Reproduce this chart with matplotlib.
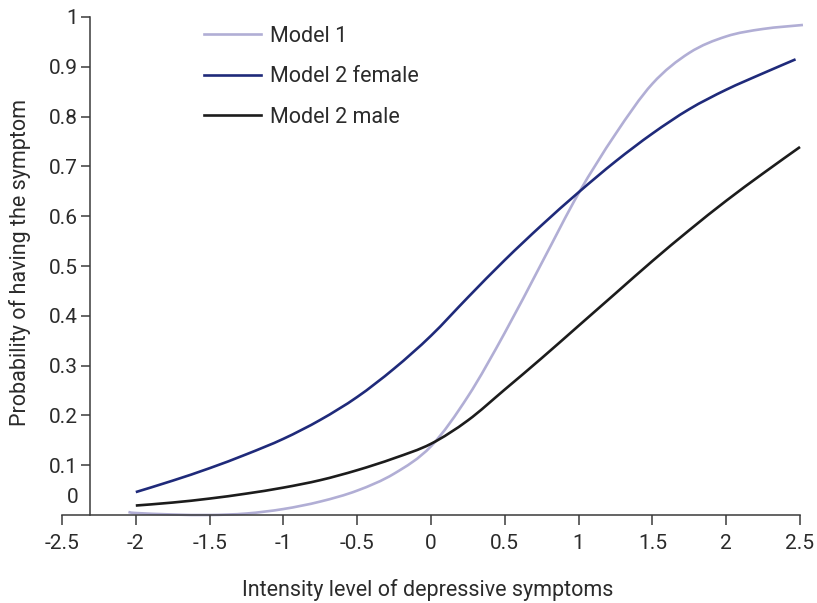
import matplotlib
matplotlib.use("Agg")
import matplotlib.pyplot as plt
import matplotlib.transforms as mtransforms
from matplotlib.path import Path
from matplotlib.patches import PathPatch
from matplotlib.lines import Line2D

plt.rcParams['font.family'] = ['Roboto', 'DejaVu Sans']

# Data
x_model1 = [-2.05, -2.0, -1.75, -1.5, -1.25, -1.0, -0.75, -0.5, -0.25, 0.0,
            0.25, 0.5, 0.75, 1.0, 1.25, 1.5, 1.75, 2.0, 2.25, 2.52]
y_model1 = [0.006, 0.004, 0.001, 0.0, 0.003, 0.012, 0.027, 0.049, 0.083, 0.138,
            0.238, 0.366, 0.506, 0.646, 0.765, 0.866, 0.928, 0.961, 0.976, 0.984]

x_female = [-2.0, -1.75, -1.5, -1.25, -1.0, -0.75, -0.5, -0.25, 0.0, 0.25,
            0.5, 0.75, 1.0, 1.25, 1.5, 1.75, 2.0, 2.25, 2.47]
y_female = [0.046, 0.069, 0.094, 0.122, 0.153, 0.191, 0.237, 0.294, 0.36, 0.437,
            0.512, 0.582, 0.648, 0.71, 0.766, 0.815, 0.854, 0.887, 0.915]

x_male = [-2.0, -1.75, -1.5, -1.25, -1.0, -0.75, -0.5, -0.25, 0.0, 0.25,
          0.5, 0.75, 1.0, 1.25, 1.5, 1.75, 2.0, 2.25, 2.5]
y_male = [0.019, 0.025, 0.033, 0.043, 0.055, 0.07, 0.09, 0.114, 0.143, 0.19,
          0.252, 0.315, 0.38, 0.445, 0.51, 0.572, 0.631, 0.686, 0.739]

series_labels = ['Model 1', 'Model 2 female', 'Model 2 male']

x_ticks = [-2.5, -2, -1.5, -1, -0.5, 0, 0.5, 1, 1.5, 2, 2.5]
x_tick_labels = ['-2.5', '-2', '-1.5', '-1', '-0.5', '0', '0.5', '1', '1.5', '2', '2.5']
y_ticks = [0.1, 0.2, 0.3, 0.4, 0.5, 0.6, 0.7, 0.8, 0.9, 1.0]
y_tick_labels = ['0.1', '0.2', '0.3', '0.4', '0.5', '0.6', '0.7', '0.8', '0.9', '1']

c_model1 = '#b1aed5'
c_female = '#1f2a7a'
c_male = '#1c1c1c'
axis_col = '#3a3a3a'
text_col = '#2b2b2b'


def smooth_path(xs, ys):
    """Catmull-Rom curve through the data points, as cubic Bezier path segments."""
    pts = list(zip(xs, ys))
    verts = [pts[0]]
    codes = [Path.MOVETO]
    n = len(pts)
    for i in range(n - 1):
        p0 = pts[i - 1] if i > 0 else pts[i]
        p1 = pts[i]
        p2 = pts[i + 1]
        p3 = pts[i + 2] if i + 2 < n else pts[i + 1]
        c1 = (p1[0] + (p2[0] - p0[0]) / 6, p1[1] + (p2[1] - p0[1]) / 6)
        c2 = (p2[0] - (p3[0] - p1[0]) / 6, p2[1] - (p3[1] - p1[1]) / 6)
        verts += [c1, c2, p2]
        codes += [Path.CURVE4] * 3
    return Path(verts, codes)


fig = plt.figure(figsize=(8.17, 6.03), dpi=100)
ax = fig.add_axes([62/817, 1 - 515/603, (800-62)/817, (515-17)/603])

lw = 1.9
handles = []
for xs, ys, col, lab in [(x_model1, y_model1, c_model1, series_labels[0]),
                         (x_female, y_female, c_female, series_labels[1]),
                         (x_male, y_male, c_male, series_labels[2])]:
    patch = PathPatch(smooth_path(xs, ys), facecolor='none', edgecolor=col,
                      lw=lw, capstyle='butt', clip_on=False)
    ax.add_patch(patch)
    handles.append(Line2D([], [], color=col, lw=lw, label=lab))

ax.set_xlim(-2.5, 2.5)
ax.set_ylim(0, 1)
ax.patch.set_visible(False)
for s in ['top', 'right']:
    ax.spines[s].set_visible(False)
ax.spines['left'].set_position(('data', -2.31))
for s in ['left', 'bottom']:
    ax.spines[s].set_color(axis_col)
    ax.spines[s].set_linewidth(1.1)

fs = 15.5
tfs = 15
ax.set_xticks(x_ticks)
ax.set_xticklabels(x_tick_labels, fontsize=tfs, color=text_col)
ax.set_yticks(y_ticks)
ax.set_yticklabels(y_tick_labels, fontsize=tfs, color=text_col)
ax.tick_params(axis='x', length=7.5, width=1.1, color=axis_col, pad=6)
ax.tick_params(axis='y', length=6.5, width=1.1, color=axis_col, pad=2)

# "0" label drawn slightly above the x axis, as in the reference
trans = ax.transData + mtransforms.ScaledTranslation(-8/72, 0, fig.dpi_scale_trans)
ax.text(-2.31, 0.036, '0', transform=trans, ha='right', va='center',
        fontsize=tfs, color=text_col)

fig.text(428/817, 1 - 590/603, 'Intensity level of depressive symptoms',
         ha='center', va='center', fontsize=fs, color=text_col)
fig.text(20/817, 1 - 262/603, 'Probability of having the symptom',
         ha='center', va='center', rotation=90, fontsize=fs, color=text_col)

leg = ax.legend(handles=handles, loc='upper left',
                bbox_to_anchor=(204/817, 1 - 26/603),
                bbox_transform=fig.transFigure, frameon=False, fontsize=fs,
                handlelength=2.65, handletextpad=0.4, labelspacing=0.9,
                borderaxespad=0, borderpad=0)
for t in leg.get_texts():
    t.set_color(text_col)

fig.savefig('out.png', dpi=100)
